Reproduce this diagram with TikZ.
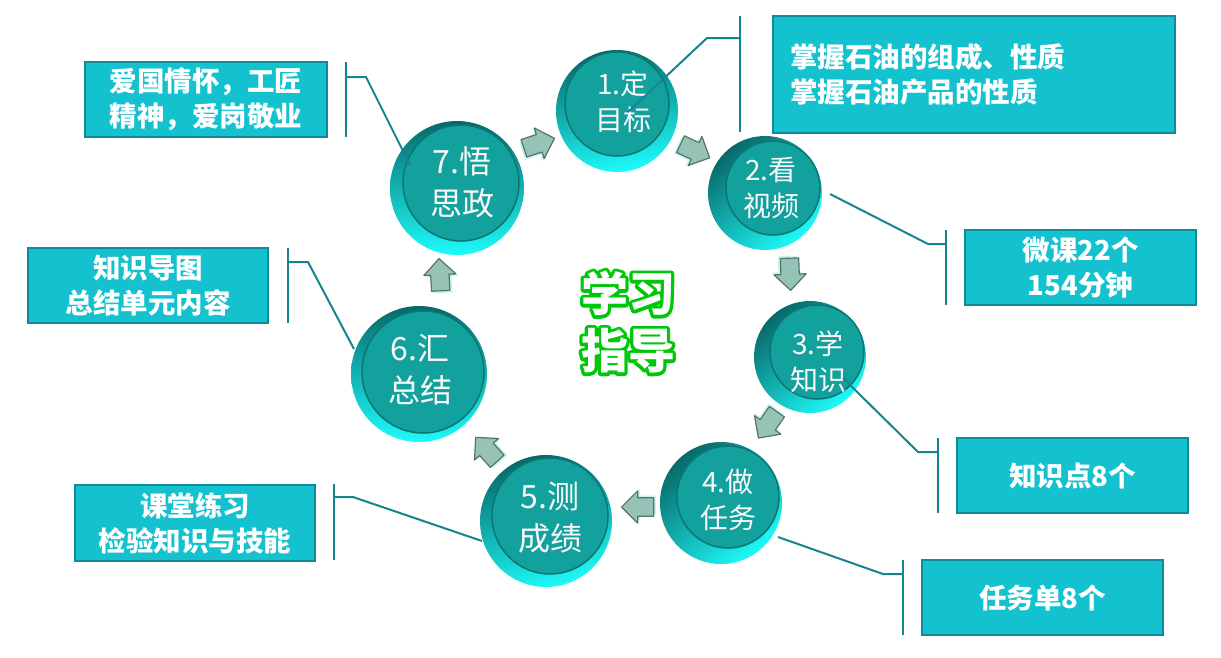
\documentclass[tikz,border=0pt]{standalone}
\usepackage{fontspec}
\newfontfamily\cjk{Noto Sans CJK SC}
\definecolor{boxfill}{RGB}{19,193,207}
\definecolor{boxline}{RGB}{14,138,152}
\definecolor{conn}{RGB}{21,133,143}
\definecolor{discface}{RGB}{19,161,158}
\definecolor{discedge}{RGB}{12,118,116}
\definecolor{rimlight}{RGB}{30,250,250}
\definecolor{rimdark}{RGB}{8,105,105}
\definecolor{arrface}{RGB}{150,195,182}
\definecolor{arredge}{RGB}{85,115,108}
\definecolor{arrglow}{RGB}{200,245,240}
\newcommand\strokedtext[1]{\special{pdf:code 0 0.78 0.04 RG 6.5 w 1 j 1 J 1 Tr}#1\special{pdf:code 0 Tr 0.4 w}}
\newcommand\blockarrow[4]{%
\begin{scope}[shift={(#2,#3)}, rotate=#4, scale=1.15]
  \fill[arrglow] (-14,-6) -- (0,-6) -- (0,-12) -- (14,2) -- (0,16) -- (0,10) -- (-14,10) -- cycle;
  \filldraw[fill=arrface, draw=arredge, line width=1.2, line join=round] (-12,-8) -- (2,-8) -- (2,-14) -- (16,0) -- (2,14) -- (2,8) -- (-12,8) -- cycle;
  \coordinate (#1) at (0,0);
\end{scope}}
\begin{document}
\begin{tikzpicture}[x=1pt,y=-1pt,
  rim/.style={circle, inner sep=0pt, draw=none, top color=rimdark, bottom color=rimlight},
  face/.style={circle, inner sep=0pt, fill=discface, draw=discedge, line width=1.5},
  disctext/.style={text=white!95!gray, align=center, inner sep=0pt},
  smallf/.style={font=\cjk\fontsize{28}{36}\selectfont},
  bigf/.style={font=\cjk\fontsize{32}{42}\selectfont},
  infobox/.style={draw=boxline, line width=2, fill=boxfill, text=white, align=center, inner sep=0pt,
    font=\cjk\bfseries\fontsize{27.5}{35}\selectfont},
  conn/.style={draw=conn, line width=2},
  bracket/.style={draw=conn, line width=2.5},
  titlef/.style={font=\cjk\bfseries\fontsize{47}{57}\selectfont, align=center, inner sep=0pt}
]
\useasboundingbox[fill=white] (0,0) rectangle (1221,657);

% ---------- discs ----------
\node[rim, minimum size=122, shading angle=10] (c1) at (617,111) {};
\node[face, minimum size=104] (c1i) at (617,104) {};
\node[disctext, smallf] (t1) at (623,102) {1.定\\目标};

\node[rim, minimum size=114, shading angle=40] (c2) at (765,193) {};
\node[face, minimum size=94] (c2i) at (773,188) {};
\node[disctext, smallf] (t2) at (771,188) {2.看\\视频};

\node[rim, minimum size=112, shading angle=40] (c3) at (810,357) {};
\node[face, minimum size=94] (c3i) at (817,352) {};
\node[disctext, smallf] (t3) at (818,362) {3.学\\知识};

\node[rim, minimum size=122, shading angle=40] (c4) at (721,503) {};
\node[face, minimum size=102] (c4i) at (728,497) {};
\node[disctext, smallf] (t4) at (728,500) {4.做\\任务};

\node[rim, minimum size=132, shading angle=15] (c5) at (546,521) {};
\node[face, minimum size=116] (c5i) at (550,516) {};
\node[disctext, bigf] (t5) at (550,518) {5.测\\成绩};

\node[rim, minimum size=136, shading angle=0] (c6) at (419,374) {};
\node[face, minimum size=122] (c6i) at (423,372) {};
\node[disctext, bigf] (t6) at (420,370) {6.汇\\总结};

\node[rim, minimum size=134, shading angle=0] (c7) at (457,188) {};
\node[face, minimum size=116] (c7i) at (461,183) {};
\node[disctext, bigf] (t7) at (462,182) {7.悟\\思政};

% ---------- info boxes ----------
\node[infobox, minimum width=402, minimum height=117, text width=368, align=left] (b1) at (974,74.5) {掌握石油的组成、性质\\掌握石油产品的性质};
\node[infobox, minimum width=231, minimum height=75] (b2) at (1080.5,267.5) {微课22个\\154分钟};
\node[infobox, minimum width=231, minimum height=75] (b3) at (1072.5,475.5) {知识点8个};
\node[infobox, minimum width=241, minimum height=75] (b4) at (1042.5,597.5) {任务单8个};
\node[infobox, minimum width=240, minimum height=76] (b5) at (195,523) {课堂练习\\检验知识与技能};
\node[infobox, minimum width=240, minimum height=75] (b6) at (148,285.5) {知识导图\\总结单元内容};
\node[infobox, minimum width=242, minimum height=75] (b7) at (206,99.5) {爱国情怀，工匠\\精神，爱岗敬业};

% ---------- callout connectors ----------
\coordinate (s1) at (628,112); \coordinate (e1) at (707,38); \coordinate (k1) at (740,38);
\coordinate (k1t) at (740,16); \coordinate (k1b) at (740,132);
\coordinate (s2) at (830,194); \coordinate (e2) at (928,244); \coordinate (k2) at (946,244);
\coordinate (k2t) at (946,230); \coordinate (k2b) at (946,305);
\coordinate (s3) at (843,378); \coordinate (e3) at (918,452); \coordinate (k3) at (938,452);
\coordinate (k3t) at (938,438); \coordinate (k3b) at (938,513);
\coordinate (s4) at (778,537); \coordinate (e4) at (883,574); \coordinate (k4) at (903,574);
\coordinate (k4t) at (903,560); \coordinate (k4b) at (903,635);
\coordinate (s5) at (482,541); \coordinate (e5) at (353,497); \coordinate (k5) at (334,497);
\coordinate (k5t) at (334,484); \coordinate (k5b) at (334,560);
\coordinate (s6) at (354,349); \coordinate (e6) at (308,262); \coordinate (k6) at (288,262);
\coordinate (k6t) at (288,248); \coordinate (k6b) at (288,323);
\coordinate (s7) at (410,165); \coordinate (e7) at (366,77); \coordinate (k7) at (346,77);
\coordinate (k7t) at (346,62); \coordinate (k7b) at (346,137);
\foreach \i in {1,...,7}{
  \draw[conn] (s\i) -- (e\i) -- (k\i);
  \draw[bracket] (k\i t) -- (k\i b);
}

% ---------- flow arrows ----------
\blockarrow{a12}{693}{150}{-25}
\blockarrow{a23}{790}{272}{-88}
\blockarrow{a34}{769}{423}{-125}
\blockarrow{a45}{640}{507}{180}
\blockarrow{a56}{488}{451}{132}
\blockarrow{a67}{440}{277}{93}
\blockarrow{a71}{537}{144}{18}

% ---------- title: green stroke under white fill ----------
\node[titlef, text=white] (titleline) at (628,322) {\strokedtext{学习\\指导}};
\node[titlef, text=white] (title) at (628,322) {学习\\指导};
\end{tikzpicture}
\end{document}
